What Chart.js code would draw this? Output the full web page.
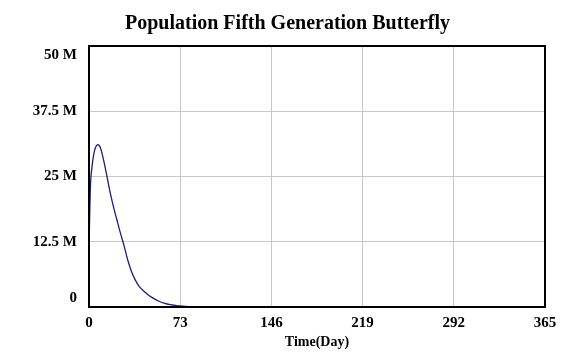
<!DOCTYPE html>
<html>
<head>
<meta charset="utf-8">
<script src="https://cdn.jsdelivr.net/npm/chart.js@4/dist/chart.umd.min.js"></script>
<style>
html,body{margin:0;padding:0;background:#fff;}
#wrap{width:575px;height:355px;position:relative;}
</style>
</head>
<body>
<div id="wrap"><canvas id="c" width="575" height="355"></canvas></div>
<script>
const chartTitle = "Population Fifth Generation Butterfly";
const xAxisTitle = "Time(Day)";
const seriesName = "Population Fifth Generation Butterfly";
const days = [0,0.5,1,1.5,2,3,4,5,6,7,8,9,10,12,14,16,18,20,22,25,28,31,34,37,40,44,48,52,56,60,65,70,75,80,85,90,100,365];
const population = [11,17,22,24.8,26,28,29.5,30.4,30.9,31.1,31.0,30.6,29.8,27.8,25.5,23.0,20.8,18.8,17.0,14.3,11.8,9.0,6.8,5.2,4.0,3.0,2.2,1.6,1.1,0.75,0.45,0.28,0.16,0.09,0.05,0.02,0,0].map(v => v * 1e6);
const xTicks = [0,73,146,219,292,365];
const yTicks = [0,12.5e6,25e6,37.5e6,50e6];
const yTickLabels = ["0","12.5 M","25 M","37.5 M","50 M"];

const points = days.map((d,i) => ({x:d, y:population[i]}));

const framePlugin = {
  id:'frame',
  afterDatasetsDraw(chart){
    const a = chart.chartArea, ctx = chart.ctx;
    ctx.save();
    ctx.strokeStyle = '#000';
    ctx.lineWidth = 2;
    ctx.strokeRect(a.left, a.top, a.right - a.left, a.bottom - a.top);
    ctx.restore();
  }
};

const font = {family:"'Liberation Serif', 'Times New Roman', serif", weight:'bold'};

new Chart(document.getElementById('c'), {
  type:'line',
  data:{datasets:[{
    label: seriesName,
    data: points,
    borderColor:'#1e1e7a',
    borderWidth:1.3,
    pointRadius:0,
    tension:0.35,
    fill:false
  }]},
  options:{
    responsive:false,
    animation:false,
    layout:{padding:0},
    plugins:{
      legend:{display:false},
      tooltip:{enabled:false},
      title:{display:true,text:chartTitle,color:'#000',
        font:{...font,size:20},padding:{top:12,bottom:10}}
    },
    scales:{
      x:{
        type:'linear',min:0,max:365,
        afterBuildTicks(s){ s.ticks = xTicks.map(v=>({value:v})); },
        afterFit(s){ s.height = 48; },
        grid:{color:'#c8c8c8',lineWidth:1,drawTicks:false},
        border:{display:false},
        ticks:{color:'#000',font:{...font,size:15},padding:7,maxRotation:0,autoSkip:false,
          callback:v=>String(v)},
        title:{display:true,text:xAxisTitle,color:'#000',font:{...font,size:14},padding:{top:0,bottom:4}}
      },
      y:{
        type:'linear',min:0,max:50e6,
        afterBuildTicks(s){ s.ticks = yTicks.map(v=>({value:v})); },
        afterFit(s){ s.width = 89; },
        grid:{color:'#c8c8c8',lineWidth:1,drawTicks:false},
        border:{display:false},
        ticks:{color:'#000',font:{...font,size:15},padding:12,autoSkip:false,
          callback:(v)=>{
            const i=yTicks.indexOf(v);
            if(i<0) return '';
            const t=yTickLabels[i];
            if(i===yTicks.length-1) return ['',t];
            if(i===0) return [t,''];
            return t;
          }}
      },
      yRight:{
        type:'linear',position:'right',min:0,max:50e6,
        afterFit(s){ s.width = 30; },
        grid:{display:false},
        border:{display:false},
        ticks:{display:false}
      }
    }
  },
  plugins:[framePlugin]
});
</script>
</body>
</html>
